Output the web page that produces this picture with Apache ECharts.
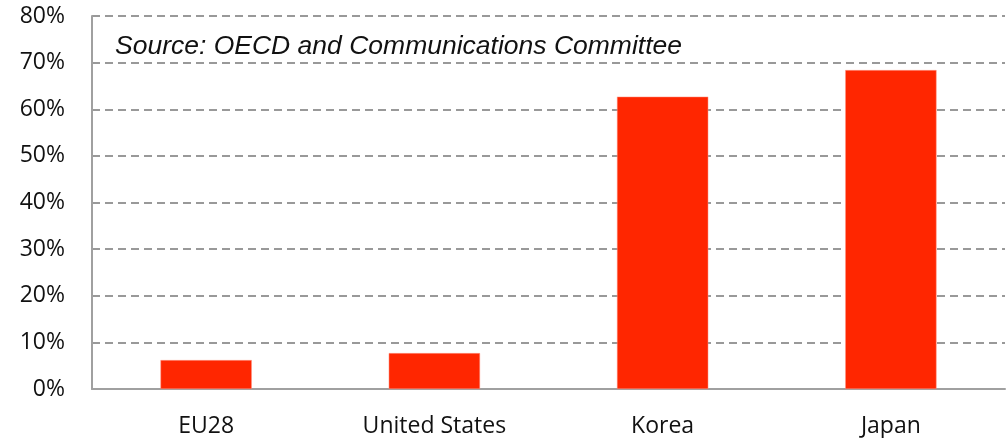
<!DOCTYPE html>
<html><head><meta charset="utf-8">
<script src="https://cdn.jsdelivr.net/npm/echarts@6/dist/echarts.min.js"></script>
<style>html,body{margin:0;padding:0;background:#fff}#c{width:1007px;height:438px}</style>
</head><body><div id="c"></div>
<script>
const categories = ['EU28', 'United States', 'Korea', 'Japan'];
const values = [6.2, 7.7, 62.7, 68.4];
const yTicks = { min: 0, max: 80, interval: 10 };
const sourceText = 'Source: OECD and Communications Committee';

const chart = echarts.init(document.getElementById('c'), null, { renderer: 'canvas' });
chart.setOption({
  animation: false,
  grid: { left: 92, right: 2, top: 16, bottom: 49, containLabel: false },
  xAxis: {
    type: 'category',
    data: categories,
    axisLine: { lineStyle: { color: '#a0a0a0', width: 2 } },
    axisTick: { show: false },
    axisLabel: { color: '#111', fontFamily: 'Open Sans', fontSize: 23, margin: 26 }
  },
  yAxis: {
    type: 'value',
    min: yTicks.min, max: yTicks.max, interval: yTicks.interval,
    axisLine: { show: true, lineStyle: { color: '#a0a0a0', width: 2 } },
    axisTick: { show: false },
    axisLabel: { color: '#111', fontFamily: 'Open Sans', fontSize: 23, margin: 27, padding: [6, 0, 0, 0], formatter: '{value}%' },
    splitLine: { lineStyle: { color: '#999', width: 2, type: [8, 5] } }
  },
  series: [{
    type: 'bar',
    data: values,
    barWidth: '40%',
    itemStyle: { color: '#ff2600', borderColor: '#ff9a8a', borderWidth: 0.5 }
  }],
  graphic: [{
    type: 'text', left: 115, top: 33,
    style: { text: sourceText, fontFamily: 'Liberation Sans', fontStyle: 'italic', fontSize: 26.5, fill: '#111' }
  }]
});
</script></body></html>
